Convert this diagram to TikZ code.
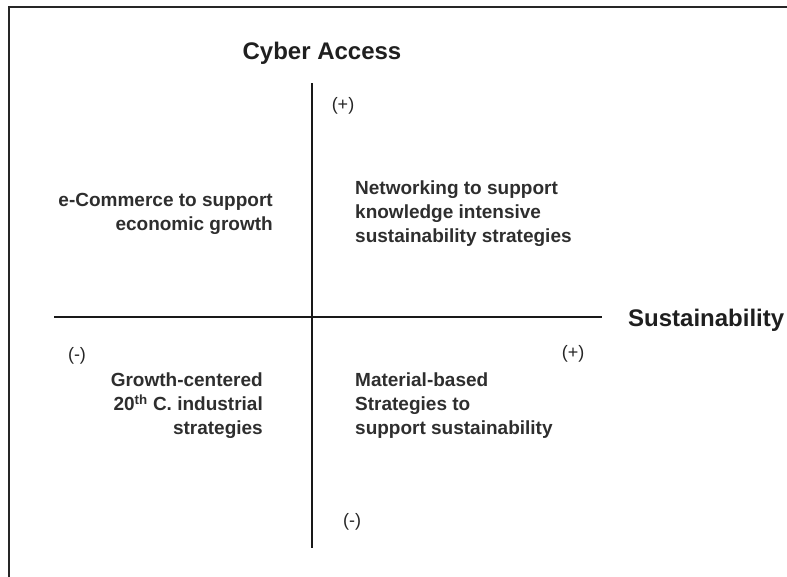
\documentclass[tikz,border=0pt]{standalone}
\usepackage{fontspec}
\setmainfont{Liberation Sans}
\usetikzlibrary{positioning}

\begin{document}
\begin{tikzpicture}[
  x=1pt, y=-1pt,
  frame/.style={line width=2pt, black!85},
  axis/.style={line width=2.8pt, black!90},
  title/.style={font=\fontsize{24}{28}\selectfont\bfseries, text=black!88, inner sep=0pt},
  quad/.style={font=\fontsize{19}{24}\selectfont\bfseries, text=black!82, inner sep=0pt},
  sign/.style={font=\fontsize{18}{20}\selectfont, text=black!85, inner sep=0pt}
]
\useasboundingbox (0,0) rectangle (787,576);
\clip (0,0) rectangle (787,576);

% outer frame (cut off at right and bottom)
\draw[frame] (9,7) rectangle (800,590);

% axes
\coordinate (ytop) at (312,83);
\coordinate (ybot) at (312,548);
\coordinate (xleft) at (54,317);
\coordinate (xright) at (602,317);
\draw[axis] (ytop) -- (ybot);
\draw[axis] (xleft) -- (xright);

% axis titles
\node[title, anchor=base] (cyber) at (322,59) {Cyber Access};
\node[title, anchor=base west] (sust) at (628,326) {Sustainability};

% signs
\node[sign] (yplus) at (343,106) {(+)};
\node[sign] (yminus) at (352,522) {(-)};
\node[sign] (xplus) at (573,354) {(+)};
\node[sign] (xminus) at (77,356) {(-)};

% quadrants
\node[quad, align=right, anchor=north east] (ecom) at (273,193)
  {e-Commerce to support\\economic growth};
\node[quad, align=left, anchor=north west] (network) at (355,181)
  {Networking to support\\knowledge intensive\\sustainability strategies};
\node[quad, align=right, anchor=north east] (growth) at (263,373)
  {Growth-centered\\20\textsuperscript{th} C. industrial\\strategies};
\node[quad, align=left, anchor=north west] (material) at (355,373)
  {Material-based\\Strategies to\\support sustainability};
\end{tikzpicture}
\end{document}
